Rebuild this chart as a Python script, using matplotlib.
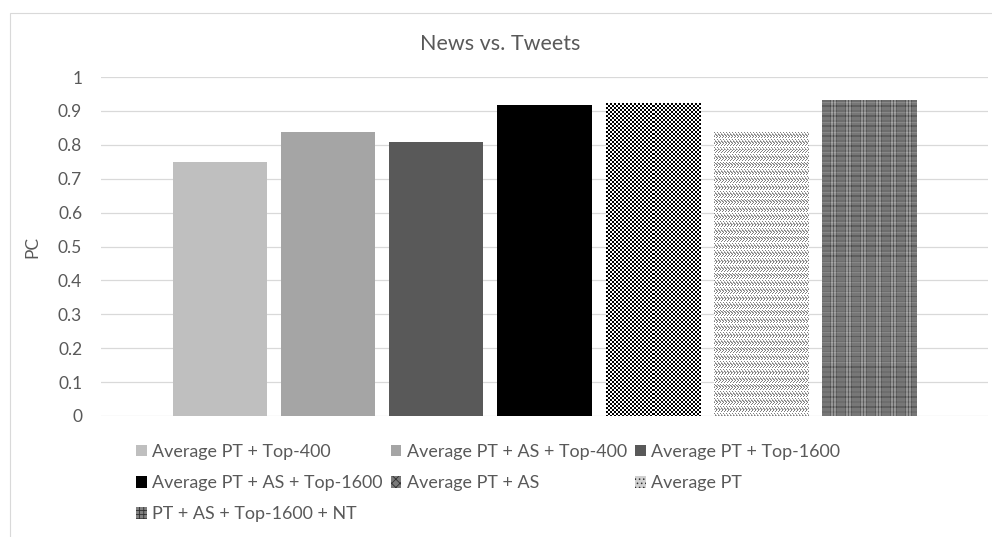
import matplotlib.pyplot as plt
import matplotlib.patches as mpatches
import numpy as np

plt.rcParams['font.family'] = ['Lato', 'DejaVu Sans']
plt.rcParams['hatch.linewidth'] = 0.6

series = ['Average PT + Top-400', 'Average PT + AS + Top-400', 'Average PT + Top-1600',
          'Average PT + AS + Top-1600', 'Average PT + AS', 'Average PT',
          'PT + AS + Top-1600 + NT']
pc = [0.75, 0.839, 0.808, 0.918, 0.922, 0.836, 0.932]
yticks = [0, 0.1, 0.2, 0.3, 0.4, 0.5, 0.6, 0.7, 0.8, 0.9, 1]

# solid fills, None where a texture is painted instead
fills = ['#bfbfbf', '#a5a5a5', '#595959', '#000000', None, None, None]
textures = [None, None, None, None, 'checker', 'weave', 'plaid']
legend_fills = ['#bfbfbf', '#a5a5a5', '#595959', '#000000', '#7a7a7a', '#d0d0d0', '#808080']
legend_hatch = [None, None, None, None, 'xxxx', '....', '++++']

txt = '#595959'
grid = '#d9d9d9'


def make_texture(kind, h, w):
    yy, xx = np.mgrid[0:h, 0:w]
    if kind == 'checker':
        v = ((yy // 2 + xx // 2) % 2).astype(float)
    elif kind == 'weave':
        zz = np.abs((yy % 8) - 4)
        v = np.where((xx + zz) % 4 == 0, 0.5, 1.0)
        v = np.where(((xx + zz) % 4 == 1) & ((yy // 4) % 2 == 0), 0.7, v)
    else:
        v = np.full((h, w), 0.47)
        v += np.where(xx % 2 == 0, 0.12, -0.08) * ((xx // 5) % 2)
        v = np.where(yy % 6 < 2, v - 0.1, v)
        v = np.where((yy // 3) % 4 == 0, v + 0.06, v)
    v = np.clip(v, 0, 1)
    return np.dstack([v, v, v])


fig = plt.figure(figsize=(9.92, 5.37), dpi=100)
ax = fig.add_axes([101 / 992, 121 / 537, 887 / 992, 339 / 537])

# outer chart border
fig.patches.append(mpatches.Rectangle((10 / 992, -0.05), 1.2, (537 - 13) / 537 + 0.05,
                                      transform=fig.transFigure, fill=False,
                                      edgecolor=grid, lw=0.8, zorder=0))

n = len(series)
step = 0.1218
width = 0.106
xs = [0.5 + (i - (n - 1) / 2) * step for i in range(n)]

bars = ax.bar(xs, pc, width=width, color=[f if f else 'white' for f in fills],
              edgecolor='none', zorder=2)

for bar, kind in zip(bars, textures):
    if kind is None:
        continue
    ext = bar.get_window_extent()
    tex = make_texture(kind, max(int(round(ext.height)), 1), max(int(round(ext.width)), 1))
    x0 = bar.get_x()
    ax.imshow(tex, extent=(x0, x0 + bar.get_width(), 0, bar.get_height()),
              origin='upper', interpolation='nearest', aspect='auto',
              clip_path=bar, zorder=3)

ax.set_xlim(0, 1)
ax.set_ylim(0, 1)
ax.set_yticks(yticks)
ax.set_yticklabels(['0' if t == 0 else ('1' if t == 1 else f'{t:g}') for t in yticks])
ax.set_xticks([])
ax.yaxis.grid(True, color=grid, lw=0.9)
ax.set_axisbelow(True)
for s in ax.spines.values():
    s.set_visible(False)
ax.tick_params(axis='y', length=0, pad=13.5, labelsize=12.5, labelcolor=txt)
ax.set_ylabel('PC', fontsize=12.5, color=txt)
ax.yaxis.set_label_coords(-61 / 887, 0.5)

fig.text(0.504, 1 - 44 / 537, 'News vs. Tweets', ha='center', va='center',
         fontsize=15.5, color=txt)

handles = [mpatches.Patch(facecolor=c, hatch=h, edgecolor='#303030' if h else 'none', lw=0)
           for c, h in zip(legend_fills, legend_hatch)]
# matplotlib fills legend columns first, so reorder to read across rows
order = [0, 3, 6, 1, 4, 2, 5]
leg = fig.legend([handles[i] for i in order], [series[i] for i in order],
                 ncol=3, loc='upper left', bbox_to_anchor=(136 / 992, 1 - 444 / 537),
                 frameon=False, fontsize=12.9, handlelength=0.6, handleheight=0.6,
                 handletextpad=0.3, columnspacing=0.45, labelspacing=0.85,
                 borderaxespad=0, borderpad=0)
for t in leg.get_texts():
    t.set_color(txt)

fig.savefig('out.png', dpi=100)
